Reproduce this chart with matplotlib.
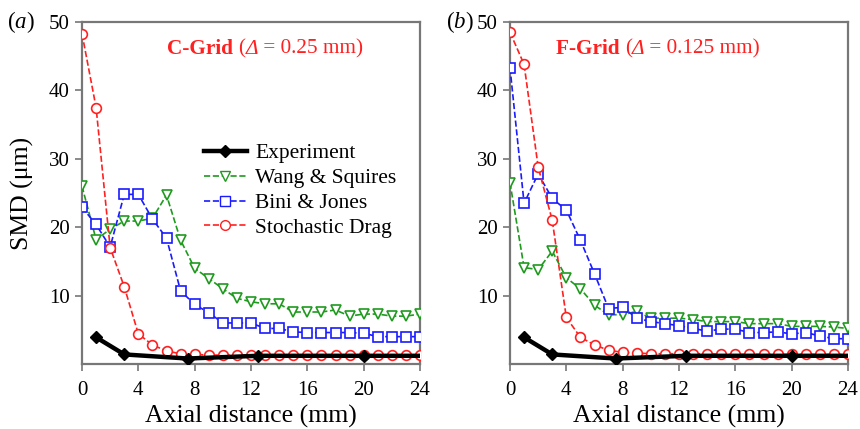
import numpy as np
import matplotlib
matplotlib.use("Agg")
import matplotlib.pyplot as plt
from matplotlib.transforms import offset_copy
from matplotlib.lines import Line2D

plt.rcParams['font.family'] = ['Liberation Serif', 'DejaVu Serif']
plt.rcParams['mathtext.fontset'] = 'custom'
plt.rcParams['mathtext.rm'] = 'Liberation Serif'
plt.rcParams['mathtext.it'] = 'Liberation Serif:italic'
plt.rcParams['mathtext.bf'] = 'Liberation Serif:bold'

# axial stations of the simulated profiles (mm)
x_sim = np.arange(0, 25)

# experimental data
x_exp = [1.0, 3.0, 7.5, 12.5, 20.0, 24.0]
smd_exp = [3.9, 1.4, 0.8, 1.2, 1.2, 1.2]

# C-Grid results
c_wang = [26.0, 18.2, 19.7, 20.9, 20.9, 21.3, 24.7, 18.1, 14.0, 12.5, 11.0, 9.6,
          9.1, 8.8, 8.8, 7.6, 7.6, 7.6, 7.9, 7.0, 7.3, 7.3, 7.0, 7.0, 7.3]
c_bini = [22.9, 20.4, 17.1, 24.8, 24.8, 21.2, 18.4, 10.7, 8.7, 7.5, 6.0, 6.0,
          6.0, 5.2, 5.2, 4.7, 4.6, 4.6, 4.6, 4.6, 4.5, 4.0, 4.0, 4.0, 4.0]
c_stoch = [48.3, 37.5, 17.0, 11.3, 4.4, 2.8, 1.9, 1.5, 1.4, 1.3, 1.3, 1.3,
           1.3, 1.3, 1.3, 1.3, 1.3, 1.3, 1.3, 1.3, 1.3, 1.3, 1.3, 1.3, 1.3]

# F-Grid results
f_wang = [26.5, 14.1, 13.8, 16.5, 12.6, 11.0, 8.6, 7.2, 7.2, 7.7, 6.7, 6.7,
          6.7, 6.5, 6.2, 6.2, 6.2, 5.9, 5.9, 5.9, 5.5, 5.5, 5.5, 5.4, 5.2]
f_bini = [43.3, 23.5, 27.8, 24.2, 22.5, 18.1, 13.2, 8.1, 8.3, 6.7, 6.2, 5.9,
          5.6, 5.2, 4.8, 5.1, 5.1, 4.6, 4.6, 4.7, 4.4, 4.6, 4.1, 3.7, 3.7]
f_stoch = [48.5, 43.8, 28.8, 21.0, 6.8, 3.9, 2.8, 2.0, 1.7, 1.6, 1.5, 1.5,
           1.5, 1.5, 1.5, 1.4, 1.4, 1.4, 1.4, 1.4, 1.4, 1.4, 1.4, 1.4, 1.4]

labels = ['Experiment', 'Wang & Squires', 'Bini & Jones', 'Stochastic Drag']
x_ticks = [0, 4, 8, 12, 16, 20, 24]
y_ticks = [10, 20, 30, 40, 50]

GREEN = '#1f9a1f'
BLUE = '#1a1aff'
RED = '#ff2020'
SPINE = '#777777'

W, H = 860, 429
fig = plt.figure(figsize=(W / 100, H / 100), dpi=100)
ax_a = fig.add_axes([82 / W, 1 - 364 / H, 338 / W, 342 / H])
ax_b = fig.add_axes([510 / W, 1 - 364 / H, 338 / W, 342 / H])


def draw_panel(ax, wang, bini, stoch):
    ax.plot(x_sim, wang, ls='--', lw=1.2, color=GREEN, marker='v', ms=7.5,
            mfc='white', mec=GREEN, mew=1.2, zorder=3)
    ax.plot(x_sim, bini, ls='--', lw=1.2, color=BLUE, marker='s', ms=7,
            mfc='white', mec=BLUE, mew=1.2, zorder=3)
    ax.plot(x_sim, stoch, ls='--', lw=1.2, color=RED, marker='o', ms=7,
            mfc='white', mec=RED, mew=1.2, zorder=4)
    ax.plot(x_exp, smd_exp, ls='-', lw=3.2, color='black', marker='D', ms=6.5,
            markevery=[0, 1, 2, 3, 4], zorder=5)
    ax.set_xlim(0, 24)
    ax.set_ylim(0, 50)
    ax.set_xticks(x_ticks)
    ax.set_yticks(y_ticks)
    ax.tick_params(direction='out', length=5, width=1.2, color=SPINE,
                   labelsize=15, pad=4)
    ax.tick_params(axis='x', pad=7)
    for s in ax.spines.values():
        s.set_color(SPINE)
        s.set_linewidth(1.6)
    ax.set_xlabel('Axial distance (mm)', fontsize=18.5, labelpad=4)


def rainbow(xc, y, pieces):
    # draw consecutive text pieces, centred as a group at (xc, y) in pixels
    renderer = fig.canvas.get_renderer()
    widths = []
    for s, kw in pieces:
        t = fig.text(0, 0, s, **kw)
        widths.append(t.get_window_extent(renderer).width)
        t.remove()
    x0 = xc - sum(widths) / 2
    xoff = 0
    for (s, kw), w in zip(pieces, widths):
        tr = offset_copy(fig.transFigure, fig=fig, x=xoff, y=0, units='dots')
        fig.text(x0 / W, 1 - y / H, s, transform=tr, va='center', **kw)
        xoff += w


draw_panel(ax_a, c_wang, c_bini, c_stoch)
draw_panel(ax_b, f_wang, f_bini, f_stoch)
ax_a.set_ylabel('SMD (μm)', fontsize=18.5)
ax_a.yaxis.set_label_coords(-0.142, 0.5)

handles = [
    Line2D([], [], ls='-', lw=3.2, color='black', marker='D', ms=6.5),
    Line2D([], [], ls='--', lw=1.2, color=GREEN, marker='v', ms=7.5, mfc='white', mec=GREEN),
    Line2D([], [], ls='--', lw=1.2, color=BLUE, marker='s', ms=7, mfc='white', mec=BLUE),
    Line2D([], [], ls='--', lw=1.2, color=RED, marker='o', ms=7, mfc='white', mec=RED),
]
ax_a.legend(handles, labels, loc='upper left', bbox_to_anchor=(0.36, 0.645),
            frameon=False, fontsize=15.5, handlelength=2.0, handletextpad=0.4,
            labelspacing=0.22, borderaxespad=0, borderpad=0)

red_kw = dict(color=RED, fontsize=15.3)
rainbow(265, 49, [('C-Grid ', dict(fontweight='bold', **red_kw)),
                  ('(', red_kw), ('Δ', dict(style='italic', **red_kw)),
                  (' = 0.25 mm)', red_kw)])
rainbow(658, 49, [('F-Grid ', dict(fontweight='bold', **red_kw)),
                  ('(', red_kw), ('Δ', dict(style='italic', **red_kw)),
                  (' = 0.125 mm)', red_kw)])

fig.text(21 / W, 1 - 22 / H, r'($\mathit{a}$)', fontsize=16.5, ha='center', va='center')
fig.text(460 / W, 1 - 22 / H, r'($\mathit{b}$)', fontsize=16.5, ha='center', va='center')

fig.savefig('out.png', dpi=100)
